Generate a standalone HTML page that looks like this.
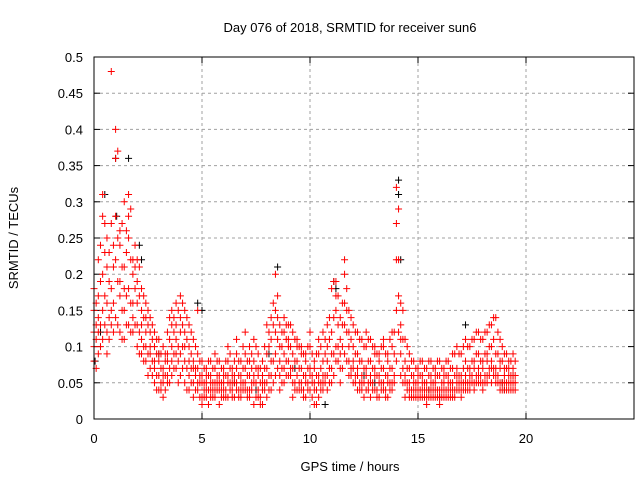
<!DOCTYPE html>
<html><head><meta charset="utf-8"><style>
body{margin:0;background:#fff;}
svg{display:block;font-family:"Liberation Sans",sans-serif;font-size:13px;}
</style></head><body>
<svg id="chart" width="640" height="480">
<text x="350" y="32" text-anchor="middle">Day 076 of 2018, SRMTID for receiver sun6</text>
<text x="350" y="471" text-anchor="middle">GPS time / hours</text>
<text transform="translate(18,238) rotate(-90)" text-anchor="middle">SRMTID / TECUs</text>
<g id="grid"></g>
<g id="ticks"></g>
<g id="black"></g>
<g id="red"></g>
<rect x="94" y="57" width="540" height="362" fill="none" stroke="#000" stroke-width="1"/>
</svg>
<script>
const xTicks=[0,5,10,15,20];
const yTicks=[0,0.05,0.1,0.15,0.2,0.25,0.3,0.35,0.4,0.45,0.5];
const yTickLabels=["0","0.05","0.1","0.15","0.2","0.25","0.3","0.35","0.4","0.45","0.5"];
const redT=[0.0,0.2,0.4,0.6,0.8,1.0,1.2,1.4,1.6,1.8,2.0,2.2,2.4,2.6,2.8,3.0,3.2,3.4,3.6,3.8,4.0,4.2,4.4,4.6,4.8,5.0,5.2,5.4,5.6,5.8,6.0,6.2,6.4,6.6,6.8,7.0,7.2,7.4,7.6,7.8,8.0,8.2,8.4,8.6,8.8,9.0,9.2,9.4,9.6,9.8,10.0,10.2,10.4,10.6,10.8,11.0,11.2,11.4,11.6,11.8,12.0,12.2,12.4,12.6,12.8,13.0,13.2,13.4,13.6,13.8,14.0,14.2,14.4,14.6,14.8,15.0,15.2,15.4,15.6,15.8,16.0,16.2,16.4,16.6,16.8,17.0,17.2,17.4,17.6,17.8,18.0,18.2,18.4,18.6,18.8,19.0,19.2,19.4];
const redV=[
[.08,.12,.15,.10,.18],[.14,.22,.09,.17,.12],[.20,.28,.11,.15,.31],[.25,.16,.12,.21,.09],[.48,.18,.13,.27,.15],
[.40,.36,.22,.14,.28],[.24,.19,.12,.17,.26],[.30,.21,.15,.11,.18],[.31,.25,.18,.13,.28],[.22,.16,.12,.20,.14],
[.19,.13,.10,.16,.22],[.15,.11,.09,.13,.18],[.14,.10,.08,.12,.16],[.12,.09,.07,.14,.10],[.10,.07,.05,.12,.08],
[.08,.06,.04,.11,.09],[.07,.05,.10,.06,.03],[.09,.06,.12,.05,.08],[.13,.08,.15,.06,.10],[.16,.11,.07,.13,.09],
[.14,.09,.17,.12,.06],[.12,.08,.15,.10,.05],[.10,.06,.13,.08,.04],[.08,.05,.11,.07,.03],[.07,.04,.09,.05,.15],
[.06,.03,.08,.05,.02],[.05,.03,.07,.04,.06],[.06,.04,.08,.03,.05],[.07,.05,.03,.09,.04],[.06,.04,.08,.02,.05],
[.05,.07,.03,.06,.04],[.08,.05,.03,.06,.10],[.06,.04,.07,.03,.05],[.07,.05,.09,.04,.11],[.06,.03,.08,.05,.04],
[.07,.04,.09,.05,.12],[.06,.03,.08,.04,.10],[.08,.05,.02,.06,.11],[.06,.04,.09,.03,.07],[.05,.02,.08,.04,.06],
[.09,.05,.13,.07,.03],[.11,.06,.14,.08,.04],[.15,.09,.20,.06,.12],[.10,.06,.13,.08,.04],[.12,.07,.14,.09,.05],
[.11,.06,.13,.08,.10],[.09,.05,.12,.07,.03],[.08,.04,.11,.06,.10],[.07,.04,.10,.05,.09],[.06,.03,.09,.05,.08],
[.07,.04,.10,.06,.12],[.05,.02,.08,.04,.07],[.06,.03,.09,.05,.11],[.08,.05,.12,.06,.04],[.10,.06,.13,.08,.04],
[.12,.07,.18,.09,.05],[.15,.10,.19,.08,.17],[.11,.07,.14,.09,.05],[.20,.13,.22,.09,.16],[.12,.08,.15,.10,.06],
[.10,.07,.13,.08,.05],[.09,.06,.12,.07,.04],[.08,.05,.11,.06,.04],[.07,.04,.10,.06,.12],[.08,.05,.11,.06,.03],
[.07,.04,.10,.06,.09],[.06,.03,.09,.05,.08],[.07,.04,.10,.05,.11],[.06,.03,.09,.05,.08],[.07,.04,.10,.05,.12],
[.15,.08,.22,.27,.32],[.13,.09,.16,.11,.06],[.08,.05,.11,.06,.03],[.07,.04,.09,.05,.03],[.06,.03,.08,.05,.04],
[.05,.03,.07,.04,.06],[.06,.04,.08,.03,.05],[.05,.03,.07,.04,.02],[.06,.04,.08,.03,.05],[.05,.03,.07,.04,.06],
[.06,.03,.08,.04,.02],[.05,.03,.07,.04,.06],[.06,.04,.08,.03,.05],[.05,.03,.09,.04,.07],[.07,.04,.10,.05,.06],
[.06,.04,.09,.05,.03],[.08,.05,.11,.06,.04],[.07,.05,.10,.06,.04],[.08,.05,.11,.07,.04],[.09,.06,.12,.07,.05],
[.08,.05,.11,.07,.04],[.09,.06,.12,.08,.05],[.10,.07,.13,.08,.05],[.09,.06,.14,.07,.05],[.08,.05,.11,.07,.04],
[.07,.05,.09,.06,.04],[.06,.04,.08,.05,.07],[.07,.05,.09,.06,.04]];
const redT2=[0.1,0.3,0.5,0.7,0.9,1.1,1.3,1.5,1.7,1.9,2.1,2.3,2.5,2.7,2.9,3.1,3.3,3.5,3.7,3.9,4.1,4.3,4.5,4.7,4.9,5.1,5.3,5.5,5.7,5.9,6.1,6.3,6.5,6.7,6.9,7.1,7.3,7.5,7.7,7.9,8.1,8.3,8.5,8.7,8.9,9.1,9.3,9.5,9.7,9.9,10.1,10.3,10.5,10.7,10.9,11.1,11.3,11.5,11.7,11.9,12.1,12.3,12.5,12.7,12.9,13.1,13.3,13.5,13.7,13.9,14.1,14.3,14.5,14.7,14.9,15.1,15.3,15.5,15.7,15.9,16.1,16.3,16.5,16.7,16.9,17.1,17.3,17.5,17.7,17.9,18.1,18.3,18.5,18.7,18.9,19.1,19.3,19.5];
const redV2=[
[.11,.16,.07,.13],[.19,.13,.24,.10],[.23,.17,.13,.27],[.19,.14,.23,.11],[.21,.16,.24,.12],
[.37,.25,.19,.13],[.21,.15,.27,.11],[.23,.17,.26,.13],[.29,.22,.16,.12],[.24,.18,.13,.21],
[.17,.12,.21,.09],[.14,.10,.17,.08],[.13,.09,.15,.06],[.11,.08,.13,.06],[.09,.06,.11,.04],
[.07,.05,.09,.04],[.06,.04,.09,.08],[.11,.07,.14,.05],[.14,.09,.12,.07],[.15,.10,.08,.05],
[.13,.10,.16,.07],[.11,.07,.14,.04],[.09,.05,.12,.07],[.07,.04,.10,.06],[.06,.03,.08,.05],
[.05,.03,.07,.04],[.06,.04,.08,.02],[.07,.04,.05,.03],[.06,.04,.08,.05],[.05,.03,.07,.04],
[.06,.04,.08,.03],[.07,.05,.04,.09],[.06,.03,.08,.05],[.06,.04,.08,.03],[.07,.05,.10,.04],
[.06,.04,.08,.03],[.07,.05,.09,.04],[.07,.03,.10,.05],[.05,.03,.07,.02],[.07,.04,.10,.05],
[.10,.06,.12,.04],[.13,.08,.16,.05],[.17,.11,.14,.07],[.12,.07,.10,.05],[.13,.08,.11,.06],
[.10,.06,.13,.07],[.08,.05,.11,.04],[.07,.04,.10,.05],[.06,.04,.09,.03],[.07,.04,.10,.05],
[.06,.03,.09,.05],[.06,.04,.09,.02],[.07,.04,.10,.05],[.09,.05,.11,.06],[.11,.07,.14,.05],
[.14,.09,.19,.06],[.13,.08,.17,.10],[.16,.10,.13,.07],[.18,.12,.15,.08],[.11,.07,.14,.06],
[.09,.06,.12,.05],[.08,.05,.11,.04],[.07,.05,.10,.03],[.08,.05,.11,.04],[.07,.04,.10,.05],
[.06,.04,.09,.03],[.07,.04,.10,.05],[.06,.04,.09,.03],[.07,.05,.11,.04],[.09,.05,.12,.06],
[.22,.17,.12,.29],[.11,.07,.15,.05],[.07,.04,.10,.05],[.06,.04,.08,.03],[.05,.03,.07,.04],
[.06,.04,.08,.03],[.05,.03,.07,.04],[.06,.04,.08,.03],[.05,.03,.07,.04],[.06,.04,.08,.03],
[.05,.03,.07,.04],[.06,.04,.08,.03],[.05,.03,.07,.04],[.06,.04,.09,.03],[.06,.04,.09,.05],
[.07,.05,.10,.04],[.07,.05,.10,.04],[.08,.05,.11,.06],[.09,.06,.12,.05],[.08,.06,.11,.05],
[.09,.06,.12,.05],[.10,.07,.13,.06],[.11,.07,.14,.06],[.09,.06,.12,.05],[.08,.05,.10,.04],
[.07,.05,.09,.04],[.06,.04,.08,.05],[.06,.05,.08,.04]];
const blackT=[0.05,0.5,1.0,1.05,1.6,2.1,2.2,4.8,5.0,8.1,8.5,10.7,11.1,11.2,14.1,14.1,14.2,17.2,0.3,3.0,6.5,9.3,12.5,15.5,18.9,19.4,7.5,13.0,16.0,19.0];
const blackV=[.08,.31,.36,.28,.36,.24,.22,.16,.15,.09,.21,.02,.19,.18,.33,.31,.22,.13,.12,.09,.05,.07,.06,.04,.05,.06,.04,.05,.03,.04];
const SVGNS="http://www.w3.org/2000/svg";
const X=t=>94+t*21.6, Y=v=>419-v*724;
function mk(tag,attrs,parent){const e=document.createElementNS(SVGNS,tag);for(const k in attrs)e.setAttribute(k,attrs[k]);parent.appendChild(e);return e;}
const grid=document.getElementById('grid'),ticks=document.getElementById('ticks');
xTicks.forEach(t=>{
 if(t>0){const l=mk('line',{x1:X(t),x2:X(t),y1:57,y2:419,stroke:'#a0a0a0','stroke-dasharray':'3,3'},grid);
 
 }
 mk('line',{x1:X(t),x2:X(t),y1:419,y2:413,stroke:'#000'},ticks);
 mk('line',{x1:X(t),x2:X(t),y1:57,y2:63,stroke:'#000'},ticks);
 const tx=mk('text',{x:X(t),y:443,'text-anchor':'middle'},ticks);tx.textContent=t;
 
 
});
yTicks.forEach((v,i)=>{
 if(i>0&&i<yTicks.length-1){const l=mk('line',{x1:94,x2:634,y1:Y(v),y2:Y(v),stroke:'#a0a0a0','stroke-dasharray':'3,3'},grid);
 
 }
 mk('line',{x1:94,x2:100,y1:Y(v),y2:Y(v),stroke:'#000'},ticks);
 mk('line',{x1:634,x2:628,y1:Y(v),y2:Y(v),stroke:'#000'},ticks);
 const tx=mk('text',{x:83,y:Y(v)+5,'text-anchor':'end'},ticks);tx.textContent=yTickLabels[i];
 
 
});
function plus(t,v,col,g){
 const x=X(t),y=Y(v);
 const p=mk('path',{d:`M${x-3.5},${y}h7M${x},${y-3.5}v7`,stroke:col,'stroke-width':1,fill:'none'},g);
 
 
}
const bg=document.getElementById('black');
blackT.forEach((t,i)=>plus(t,blackV[i],'#000',bg));
const rg=document.getElementById('red');
redT.forEach((t,i)=>redV[i].forEach(v=>plus(t,v,'#ff0000',rg)));
redT2.forEach((t,i)=>redV2[i].forEach(v=>plus(t,v,'#ff0000',rg)));
</script>
</body></html>
